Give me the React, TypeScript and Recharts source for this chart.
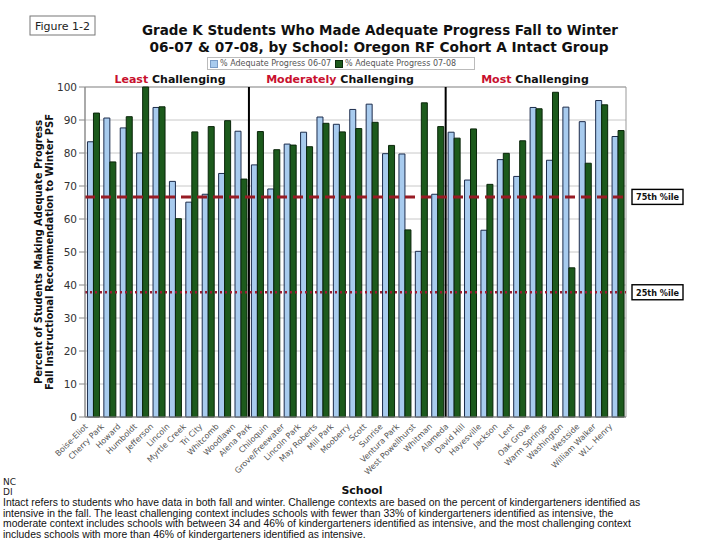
import React from "react";
import {
  BarChart,
  Bar,
  XAxis,
  YAxis,
  CartesianGrid,
  ReferenceLine,
  ReferenceArea,
  Legend,
} from "recharts";

const schools = [
  "Boise-Eliot", "Cherry Park", "Howard", "Humboldt", "Jefferson", "Lincoln",
  "Myrtle Creek", "Tri City", "Whitcomb", "Woodlawn",
  "Alena Park", "Chiloquin", "Grove/Freewater", "Lincoln Park", "May Roberts",
  "Mill Park", "Mooberry", "Scott", "Sunrise", "Ventura Park", "West Powellhurst", "Whitman",
  "Alameda", "David Hill", "Hayesville", "Jackson", "Lent", "Oak Grove",
  "Warm Springs", "Washington", "Westside", "William Walker", "W.L. Henry",
];

const progress0607 = [
  83.4, 90.6, 87.6, 80, 93.8, 71.4, 65.1, 67.5, 73.8, 86.6,
  76.4, 69.1, 82.7, 86.3, 90.9, 88.7, 93.2, 94.8, 79.8, 79.7, 50.2, 67.5,
  86.3, 71.8, 56.6, 78, 72.9, 93.8, 77.8, 93.9, 89.5, 95.9, 85,
];

const progress0708 = [
  92.1, 77.3, 91, 100, 94, 60.1, 86.4, 88, 89.8, 72.1,
  86.5, 81, 82.4, 81.9, 89, 86.4, 87.4, 89.3, 82.3, 56.7, 95.2, 88,
  84.5, 87.3, 70.5, 79.9, 83.7, 93.4, 98.4, 45.2, 76.9, 94.6, 86.8,
];

const seriesNames = ["% Adequate Progress 06-07", "% Adequate Progress 07-08"];
const yTicks = [0, 10, 20, 30, 40, 50, 60, 70, 80, 90, 100];
const percentile75 = 66.7;
const percentile25 = 37.8;
const contextBoundaries = ["Alena Park", "Alameda"];

const data = schools.map((s, i) => ({
  school: s,
  p0607: progress0607[i],
  p0708: progress0708[i],
}));

const FONT = "'DejaVu Sans', Verdana, sans-serif";

const SchoolTick = (props: any) => {
  const { x, y, payload } = props;
  const tx = x - 5;
  const ty = y + 10;
  return (
    <text
      x={tx}
      y={ty}
      transform={`rotate(-45, ${tx}, ${ty})`}
      textAnchor="end"
      fontSize={8}
      fill="#555"
      fontFamily={FONT}
    >
      {payload.value}
    </text>
  );
};

const PctLabel = (props: any) => {
  const { viewBox, text } = props;
  if (!viewBox) return null;
  const x = viewBox.x + viewBox.width + 6;
  const y = viewBox.y;
  return (
    <g>
      <rect x={x} y={y - 7.5} width={51} height={15} fill="#fff" stroke="#000" strokeWidth={1.4} />
      <text
        x={x + 25.5}
        y={y + 3.5}
        textAnchor="middle"
        fontWeight="bold"
        fontSize={9.5}
        fontFamily={FONT}
        fill="#111"
        textLength={43}
        lengthAdjust="spacingAndGlyphs"
      >
        {text}
      </text>
    </g>
  );
};

const LegendContent = (props: any) => {
  const { payload } = props;
  return (
    <div
      style={{
        border: "1px solid #bbb",
        background: "#fff",
        height: 11,
        display: "flex",
        alignItems: "center",
        fontFamily: FONT,
        fontSize: 8,
        color: "#555",
        padding: "0 2px",
        whiteSpace: "nowrap",
      }}
    >
      {(payload || []).map((p: any, i: number) => (
        <span key={i} style={{ display: "inline-flex", alignItems: "center", marginRight: 4 }}>
          <span
            style={{
              display: "inline-block",
              width: 6,
              height: 6,
              background: p.color,
              border: "1px solid " + (i === 0 ? "#7a9cc6" : "#0b2b0b"),
              marginRight: 2,
            }}
          />
          {p.value}
        </span>
      ))}
    </div>
  );
};

const paragraph = [
  "Intact refers to students who have data in both fall and winter. Challenge contexts are based on the percent of kindergarteners identified as",
  "intensive in the fall. The least challenging context includes schools with fewer than 33% of kindergarteners identified as intensive, the",
  "moderate context includes schools with between 34 and 46% of kindergarteners identified as intensive, and the most challenging context",
  "includes schools with more than 46% of kindergarteners identified as intensive.",
];

export default function App() {
  return (
    <div style={{ position: "absolute", left: 0, top: 0, width: 720, height: 540, background: "#fff" }}>
      <BarChart
        width={720}
        height={540}
        data={data}
        margin={{ top: 87, right: 94, bottom: 63, left: 55 }}
        barCategoryGap="15%"
        barGap={0}
      >
        <CartesianGrid vertical={false} stroke="#c8c8c8" />
        <ReferenceArea y1={0} y2={100} fill="none" stroke="#999" strokeWidth={1} />
        <XAxis
          dataKey="school"
          interval={0}
          height={60}
          tick={<SchoolTick />}
          tickLine={false}
          tickSize={0}
          tickMargin={0}
          axisLine={{ stroke: "#888" }}
        />
        <YAxis
          width={30}
          domain={[0, 100]}
          ticks={yTicks}
          interval={0}
          tick={{ fontSize: 10.5, fill: "#333", fontFamily: FONT }}
          axisLine={{ stroke: "#888" }}
          tickLine={{ stroke: "#888" }}
        />
        <Legend
          layout="horizontal"
          verticalAlign="middle"
          align="center"
          content={<LegendContent />}
          wrapperStyle={{ top: 57, left: 207, width: 268, height: 13 }}
        />
        <Bar
          dataKey="p0607"
          name={seriesNames[0]}
          fill="#a8cbee"
          stroke="#1c2c4c"
          strokeWidth={1}
          isAnimationActive={false}
        />
        <Bar
          dataKey="p0708"
          name={seriesNames[1]}
          fill="#1c5a1c"
          stroke="#0a260a"
          strokeWidth={1}
          isAnimationActive={false}
        />
        {contextBoundaries.map((s) => (
          <ReferenceLine key={s} x={s} position="start" stroke="#000" strokeWidth={2} />
        ))}
        <ReferenceLine
          y={percentile75}
          stroke="#981b24"
          strokeWidth={3}
          strokeDasharray="10 6"
          label={(p: any) => <PctLabel {...p} text="75th %ile" />}
        />
        <ReferenceLine
          y={percentile25}
          stroke="#9a1b32"
          strokeWidth={2.5}
          strokeDasharray="2 3"
          label={(p: any) => <PctLabel {...p} text="25th %ile" />}
        />
      </BarChart>
      <svg
        width={720}
        height={540}
        style={{ position: "absolute", left: 0, top: 0, pointerEvents: "none" }}
      >
        <rect x={30} y={16} width={65} height={19} fill="#fff" stroke="#777" strokeWidth={1} />
        <text x={62.5} y={29.5} textAnchor="middle" fontSize={11} fontFamily={FONT} fill="#222">
          Figure 1-2
        </text>
        <text x={380} y={35} textAnchor="middle" fontSize={14.5} fontWeight="bold" fontFamily={FONT} fill="#111" textLength={476} lengthAdjust="spacingAndGlyphs">
          Grade K Students Who Made Adequate Progress Fall to Winter
        </text>
        <text x={379} y={51.5} textAnchor="middle" fontSize={14.5} fontWeight="bold" fontFamily={FONT} fill="#111" textLength={459} lengthAdjust="spacingAndGlyphs">
          06-07 &amp; 07-08, by School: Oregon RF Cohort A Intact Group
        </text>
        <text x={170} y={83} textAnchor="middle" fontSize={11} fontWeight="bold" fontFamily={FONT}>
          <tspan fill="#c8102e">Least</tspan>
          <tspan fill="#111"> Challenging</tspan>
        </text>
        <text x={340} y={83} textAnchor="middle" fontSize={11} fontWeight="bold" fontFamily={FONT}>
          <tspan fill="#c8102e">Moderately</tspan>
          <tspan fill="#111"> Challenging</tspan>
        </text>
        <text x={535} y={83} textAnchor="middle" fontSize={11} fontWeight="bold" fontFamily={FONT}>
          <tspan fill="#c8102e">Most</tspan>
          <tspan fill="#111"> Challenging</tspan>
        </text>
        <text
          x={42}
          y={252}
          transform="rotate(-90, 42, 252)"
          textAnchor="middle"
          fontSize={11}
          fontWeight="bold"
          fontFamily={FONT}
          fill="#111"
          textLength={264}
          lengthAdjust="spacingAndGlyphs"
        >
          Percent of Students Making Adequate Progress
        </text>
        <text
          x={53}
          y={252}
          transform="rotate(-90, 53, 252)"
          textAnchor="middle"
          fontSize={11}
          fontWeight="bold"
          fontFamily={FONT}
          fill="#111"
          textLength={276}
          lengthAdjust="spacingAndGlyphs"
        >
          Fall Instructional Recommendation to Winter PSF
        </text>
        <text x={362} y={494} textAnchor="middle" fontSize={11} fontWeight="bold" fontFamily={FONT} fill="#111">
          School
        </text>
        <text x={3} y={485} fontSize={9} fontFamily={FONT} fill="#222">NC</text>
        <text x={3} y={495} fontSize={9} fontFamily={FONT} fill="#222">DI</text>
        {paragraph.map((line, i) => (
          <text key={i} x={3} y={506 + i * 10.6} fontSize={10.4} fontFamily="'Liberation Sans', Arial, sans-serif" fill="#111">
            {line}
          </text>
        ))}
      </svg>
    </div>
  );
}
